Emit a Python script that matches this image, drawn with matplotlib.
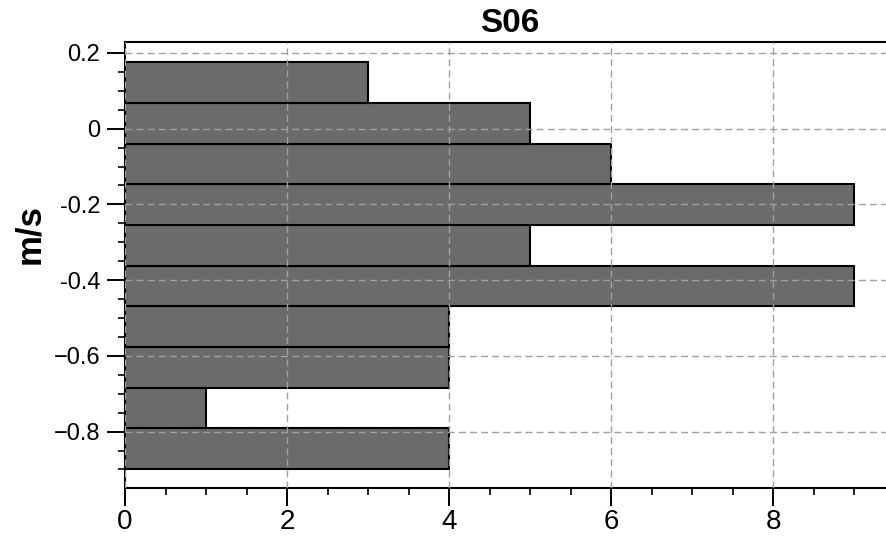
import matplotlib.pyplot as plt
import numpy as np
from matplotlib.ticker import MultipleLocator

plt.rcParams["font.family"] = ["Liberation Sans", "DejaVu Sans"]

# Histogram data (speed bins in m/s, counts from lowest bin upward)
bin_low = -0.899
bin_high = 0.175
counts = [4, 1, 4, 4, 9, 5, 9, 6, 5, 3]

y_ticks = [-0.8, -0.6, -0.4, -0.2, 0.0, 0.2]
y_tick_labels = ["\u22120.8", "\u22120.6", "-0.4", "-0.2", "0", "0.2"]
x_ticks = [0, 2, 4, 6, 8]
x_tick_labels = ["0", "2", "4", "6", "8"]

edges = np.linspace(bin_low, bin_high, len(counts) + 1)
centers = (edges[:-1] + edges[1:]) / 2

fig = plt.figure(figsize=(8.86, 5.39), dpi=100)
ax = fig.add_axes([125 / 886, 1 - 488 / 539, 770 / 886, 446 / 539])

ax.hist(
    centers,
    bins=edges,
    weights=counts,
    orientation="horizontal",
    color="#6b6b6b",
    edgecolor="black",
    linewidth=1.5,
    zorder=1,
)

ax.set_xlim(0, 9.506)
ax.set_ylim(-0.949, 0.229)

ax.set_yticks(y_ticks)
ax.set_yticklabels(y_tick_labels, fontsize=17)
ax.set_xticks(x_ticks)
ax.set_xticklabels(x_tick_labels, fontsize=20)
ax.xaxis.set_minor_locator(MultipleLocator(0.5))
ax.yaxis.set_minor_locator(MultipleLocator(0.05))

ax.tick_params(which="major", length=13, width=1.4, direction="out")
ax.tick_params(axis="y", which="major", pad=5)
ax.tick_params(axis="x", which="major", pad=2)
ax.tick_params(which="minor", length=5, width=1.2, direction="out")

ax.grid(True, which="major", linestyle=(0, (5, 3)), color="#a0a0a0",
        linewidth=1.0, zorder=2)
ax.set_axisbelow(False)

for spine in ax.spines.values():
    spine.set_linewidth(1.5)

ax.set_title("S06", fontsize=24, fontweight="bold", pad=7)
ax.set_ylabel("m/s", fontsize=25, fontweight="bold")
ax.yaxis.set_label_coords(-0.103, 0.57)

fig.savefig("out.png", dpi=100)
